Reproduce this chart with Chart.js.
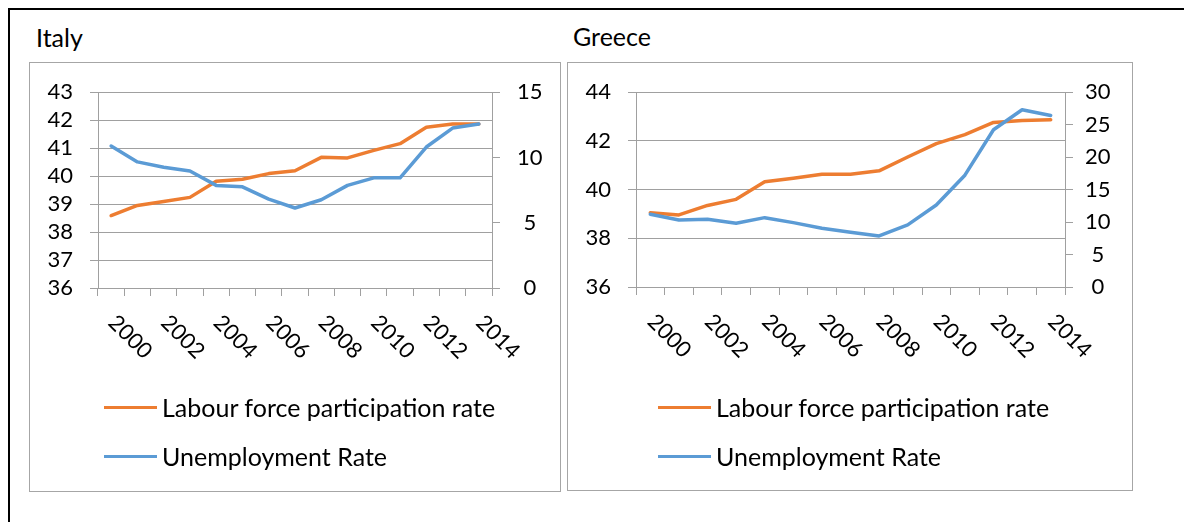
<!DOCTYPE html>
<html>
<head>
<meta charset="utf-8">
<title>Italy / Greece</title>
<script src="https://cdn.jsdelivr.net/npm/chart.js@4.4.1/dist/chart.umd.min.js"></script>
<style>
  html, body { margin: 0; padding: 0; background: #fff; }
  body { width: 1184px; height: 522px; position: relative; overflow: hidden; font-family: Lato, sans-serif; }
  .frame { position: absolute; left: 8px; top: 8px; width: 1174px; height: 512px; border-left: 2px solid #000; border-top: 2px solid #000; }
  .title { position: absolute; font-size: 25px; line-height: 1; color: #000; }
  .panel { position: absolute; border: 1px solid #a6a6a6; box-sizing: border-box; }
  canvas { position: absolute; }
  .key { position: absolute; display: flex; align-items: center; height: 30px; font-size: 25px; color: #000; white-space: nowrap; }
  .key span.ln { display: inline-block; width: 53px; height: 3px; margin-right: 5px; }
</style>
</head>
<body>
<div class="frame"></div>

<div class="title" style="left:36px; top:25px;">Italy</div>
<div class="title" style="left:573px; top:24px;">Greece</div>

<div class="panel" style="left:29px; top:62px; width:532px; height:430px;"></div>
<div class="panel" style="left:567px; top:62px; width:566px; height:429px;"></div>

<canvas id="italyChart" width="532" height="430" style="left:29px; top:62px;"></canvas>
<canvas id="greeceChart" width="566" height="429" style="left:567px; top:62px;"></canvas>

<div class="key" style="left:104px; top:392px;"><span class="ln" style="background:#ED7D31"></span>Labour force participation rate</div>
<div class="key" style="left:104px; top:441px;"><span class="ln" style="background:#5B9BD5"></span>Unemployment Rate</div>
<div class="key" style="left:658px; top:392px;"><span class="ln" style="background:#ED7D31"></span>Labour force participation rate</div>
<div class="key" style="left:658px; top:441px;"><span class="ln" style="background:#5B9BD5"></span>Unemployment Rate</div>

<script>
const years = ['2000', '2001', '2002', '2003', '2004', '2005', '2006', '2007',
               '2008', '2009', '2010', '2011', '2012', '2013', '2014'];

const italyLabour = [38.59, 38.95, 39.09, 39.24, 39.82, 39.89, 40.09, 40.19,
                     40.67, 40.65, 40.92, 41.16, 41.75, 41.86, 41.86];
const italyUnemp = [10.88, 9.66, 9.25, 8.97, 7.86, 7.75, 6.81, 6.13,
                    6.76, 7.86, 8.44, 8.44, 10.8, 12.25, 12.56];

const greeceLabour = [39.05, 38.96, 39.35, 39.60, 40.32, 40.47, 40.63, 40.63,
                      40.77, 41.34, 41.89, 42.26, 42.76, 42.84, 42.87];
const greeceUnemp = [11.19, 10.32, 10.42, 9.81, 10.68, 9.91, 9.04, 8.43,
                     7.87, 9.56, 12.62, 17.22, 24.22, 27.29, 26.42];

const seriesNames = ['Labour force participation rate', 'Unemployment Rate'];

const ORANGE = '#ED7D31';
const BLUE = '#5B9BD5';
const GRID = '#a0a0a0';

// Excel style year labels: every second year, slanted down to the right
const slantedLabels = {
    id: 'slantedLabels',
    afterDraw(chart) {
        const xs = chart.scales.x;
        const ctx = chart.ctx;
        ctx.save();
        ctx.font = '22px Lato';
        ctx.fillStyle = '#000';
        ctx.textAlign = 'left';
        ctx.textBaseline = 'middle';
        years.forEach((yr, i) => {
            if (i % 2) return;
            ctx.save();
            ctx.translate(xs.getPixelForValue(i) + 1, chart.chartArea.bottom + 31);
            ctx.rotate(Math.PI / 4);
            ctx.fillText(yr, 0, 0);
            ctx.restore();
        });
        ctx.restore();
    }
};

function buildChart(id, labour, unemp, left, right, sizes) {
    return new Chart(document.getElementById(id), {
        type: 'line',
        data: {
            labels: years,
            datasets: [
                {
                    label: seriesNames[0], data: labour, yAxisID: 'y', order: 1,
                    borderColor: ORANGE, borderWidth: 3.5, pointRadius: 0,
                    borderJoinStyle: 'round', borderCapStyle: 'round', tension: 0
                },
                {
                    label: seriesNames[1], data: unemp, yAxisID: 'y1', order: 0,
                    borderColor: BLUE, borderWidth: 3.5, pointRadius: 0,
                    borderJoinStyle: 'round', borderCapStyle: 'round', tension: 0
                }
            ]
        },
        options: {
            responsive: false,
            animation: false,
            devicePixelRatio: 1,
            layout: { padding: { top: sizes.top, left: 0, right: 0, bottom: 0 } },
            scales: {
                x: {
                    type: 'category',
                    offset: true,
                    grid: { offset: true, drawOnChartArea: false, tickLength: 8, color: GRID },
                    border: { color: GRID },
                    ticks: { display: false },
                    afterFit: s => { s.height = sizes.bottom; }
                },
                y: {
                    position: 'left',
                    min: left[0], max: left[1],
                    ticks: { stepSize: left[2], autoSkip: false, padding: sizes.padL, color: '#000', font: { family: 'Lato', size: 22 } },
                    grid: { color: GRID, tickLength: 8 },
                    border: { color: GRID },
                    afterFit: s => { s.width = sizes.left; }
                },
                y1: {
                    position: 'right',
                    min: right[0], max: right[1],
                    ticks: { stepSize: right[2], autoSkip: false, padding: sizes.padR, crossAlign: 'center', color: '#000', font: { family: 'Lato', size: 22 } },
                    grid: { color: GRID, tickLength: 8, drawOnChartArea: false },
                    border: { color: GRID },
                    afterFit: s => { s.width = sizes.right; }
                }
            },
            plugins: {
                legend: { display: false },
                tooltip: { enabled: false }
            }
        },
        plugins: [slantedLabels]
    });
}

buildChart('italyChart', italyLabour, italyUnemp, [36, 43, 1], [0, 15, 5],
    { top: 29, bottom: 204, left: 69, right: 69, padL: 17, padR: 17 });

buildChart('greeceChart', greeceLabour, greeceUnemp, [36, 44, 2], [0, 30, 5],
    { top: 29, bottom: 204, left: 69, right: 68, padL: 17, padR: 12 });
</script>
</body>
</html>
